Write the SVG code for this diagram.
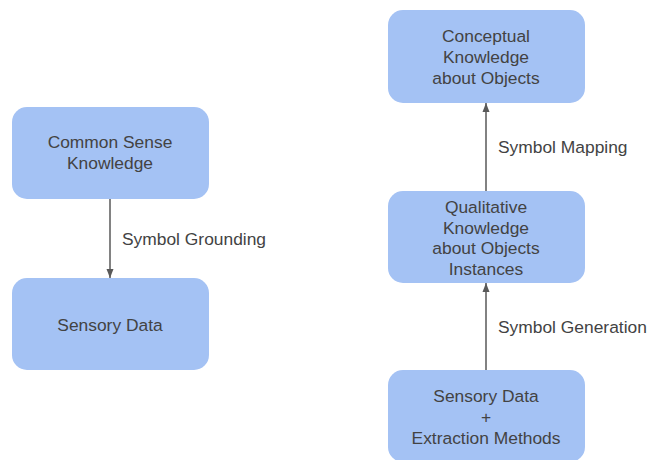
<svg xmlns="http://www.w3.org/2000/svg" width="649" height="460" viewBox="0 0 649 460">
<style>
.box{fill:#a4c2f4;stroke:none}
.t{font-family:"Liberation Sans",Arial,sans-serif;font-size:17.4px;fill:#434343;text-anchor:middle}
.l{font-family:"Liberation Sans",Arial,sans-serif;font-size:17.4px;fill:#434343}
.c{stroke:#595959;stroke-width:1.5;fill:none}
</style>
<defs>
<marker id="ah" markerWidth="10" markerHeight="10" viewBox="0 0 10 10" refX="9" refY="5" orient="auto" markerUnits="userSpaceOnUse">
<path d="M0,1.5 L9,5 L0,8.5 Z" fill="#595959"/>
</marker>
</defs>
<rect width="649" height="460" fill="#ffffff"/>
<g id="connectors">
<line class="c" x1="110" y1="199" x2="110" y2="278" marker-end="url(#ah)"/>
<line class="c" x1="486" y1="191" x2="486" y2="103" marker-end="url(#ah)"/>
<line class="c" x1="486" y1="370" x2="486" y2="283" marker-end="url(#ah)"/>
<text class="l" x="122" y="245">Symbol Grounding</text>
<text class="l" x="498" y="153">Symbol Mapping</text>
<text class="l" x="498" y="333">Symbol Generation</text>
</g>
<g id="common-sense">
<rect class="box" x="12" y="107" width="197" height="92" rx="15"/>
<text class="t" x="110" y="148">Common Sense</text>
<text class="t" x="110" y="169">Knowledge</text>
</g>
<g id="sensory-data">
<rect class="box" x="12" y="278" width="197" height="92" rx="15"/>
<text class="t" x="110" y="331">Sensory Data</text>
</g>
<g id="conceptual">
<rect class="box" x="388" y="10" width="197" height="93" rx="15"/>
<text class="t" x="486" y="42">Conceptual</text>
<text class="t" x="486" y="63">Knowledge</text>
<text class="t" x="486" y="84">about Objects</text>
</g>
<g id="qualitative">
<rect class="box" x="388" y="191" width="197" height="92" rx="15"/>
<text class="t" x="486" y="213">Qualitative</text>
<text class="t" x="486" y="234">Knowledge</text>
<text class="t" x="486" y="254">about Objects</text>
<text class="t" x="486" y="275">Instances</text>
</g>
<g id="sensory-extraction">
<rect class="box" x="388" y="370" width="197" height="92" rx="15"/>
<text class="t" x="486" y="402">Sensory Data</text>
<text class="t" x="486" y="423">+</text>
<text class="t" x="486" y="444">Extraction Methods</text>
</g>
</svg>
